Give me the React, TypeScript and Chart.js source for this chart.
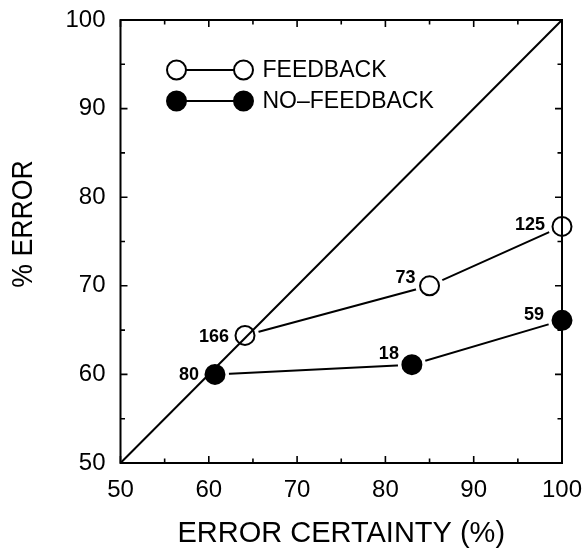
import React, { useEffect, useRef } from "react";
import { Chart, registerables } from "chart.js";

Chart.register(...registerables);

// Error certainty (%) on x, % error on y
const feedbackCertainty = [64.1, 85.0, 100];
const feedbackError = [64.4, 70.0, 76.7];
const feedbackCounts = ["166", "73", "125"];

const noFeedbackCertainty = [60.7, 83.0, 100];
const noFeedbackError = [60.0, 61.1, 66.1];
const noFeedbackCounts = ["80", "18", "59"];

// identity line y = x
const diagonal = [50, 100];

const axisMin = 50;
const axisMax = 100;
const majorStep = 10;
const minorStep = 5;

const seriesNames = ["FEEDBACK", "NO–FEEDBACK"];

// count label offsets from the marker centre (dx to the text's right edge, dy to its middle)
const feedbackLabelOffsets = [
  [-16, 1],
  [-14, -9],
  [-17, -2],
];
const noFeedbackLabelOffsets = [
  [-16, 0],
  [-13, -12],
  [-18, -6],
];

const FONT = "'Liberation Sans', Arial, Helvetica, sans-serif";
const MARKER_R = 9.5;
const MARKER_BW = 2;

const toPoints = (xs: number[], ys: number[]) => xs.map((x, i) => ({ x, y: ys[i] }));

const framePlugin = {
  id: "frameTicks",
  afterDatasetsDraw(chart: any) {
    const { ctx, chartArea: a, scales } = chart;
    const xs = scales.x;
    const ys = scales.y;
    ctx.save();
    ctx.strokeStyle = "#000";
    ctx.lineWidth = 2;
    ctx.strokeRect(a.left, a.top, a.right - a.left, a.bottom - a.top);
    ctx.lineWidth = 1.6;
    for (let v = axisMin; v <= axisMax; v += minorStep) {
      const len = v % majorStep === 0 ? 7 : 4.5;
      const px = xs.getPixelForValue(v);
      const py = ys.getPixelForValue(v);
      ctx.beginPath();
      ctx.moveTo(px, a.bottom);
      ctx.lineTo(px, a.bottom - len);
      ctx.moveTo(px, a.top);
      ctx.lineTo(px, a.top + len);
      ctx.moveTo(a.left, py);
      ctx.lineTo(a.left + len, py);
      ctx.moveTo(a.right, py);
      ctx.lineTo(a.right - len, py);
      ctx.stroke();
    }
    ctx.restore();
  },
};

const countLabelPlugin = {
  id: "countLabels",
  afterDatasetsDraw(chart: any) {
    const { ctx, scales } = chart;
    const groups = [
      { xs: feedbackCertainty, ys: feedbackError, labels: feedbackCounts, off: feedbackLabelOffsets },
      { xs: noFeedbackCertainty, ys: noFeedbackError, labels: noFeedbackCounts, off: noFeedbackLabelOffsets },
    ];
    ctx.save();
    ctx.fillStyle = "#000";
    ctx.font = `bold 18px ${FONT}`;
    ctx.textAlign = "right";
    ctx.textBaseline = "middle";
    groups.forEach((g) => {
      g.labels.forEach((t, i) => {
        const px = scales.x.getPixelForValue(g.xs[i]);
        const py = scales.y.getPixelForValue(g.ys[i]);
        ctx.fillText(t, px + g.off[i][0], py + g.off[i][1] + 1);
      });
    });
    ctx.restore();
  },
};

const legendPlugin = {
  id: "boxLegend",
  afterDraw(chart: any) {
    const { ctx, chartArea: a } = chart;
    const rows = [
      { y: a.top + 50, filled: false, text: seriesNames[0] },
      { y: a.top + 81, filled: true, text: seriesNames[1] },
    ];
    const x1 = a.left + 56;
    const x2 = a.left + 123;
    ctx.save();
    rows.forEach((r) => {
      ctx.strokeStyle = "#000";
      ctx.lineWidth = 2;
      ctx.beginPath();
      ctx.moveTo(x1, r.y);
      ctx.lineTo(x2, r.y);
      ctx.stroke();
      [x1, x2].forEach((cx) => {
        ctx.beginPath();
        ctx.arc(cx, r.y, MARKER_R, 0, Math.PI * 2);
        ctx.fillStyle = r.filled ? "#000" : "#fff";
        ctx.fill();
        ctx.lineWidth = MARKER_BW;
        ctx.stroke();
      });
      ctx.fillStyle = "#000";
      ctx.font = `23px ${FONT}`;
      ctx.textAlign = "left";
      ctx.textBaseline = "middle";
      ctx.fillText(r.text, x2 + 19, r.y + 1);
    });
    ctx.restore();
  },
};

const axisTitlePlugin = {
  id: "axisTitles",
  afterDraw(chart: any) {
    const { ctx, chartArea: a } = chart;
    ctx.save();
    ctx.fillStyle = "#000";
    ctx.font = `29px ${FONT}`;
    ctx.textAlign = "center";
    ctx.textBaseline = "alphabetic";
    ctx.fillText("ERROR CERTAINTY (%)", (a.left + a.right) / 2, 542);
    ctx.translate(32, 224);
    ctx.rotate(-Math.PI / 2);
    ctx.scale(0.92, 1);
    ctx.font = `29px ${FONT}`;
    ctx.fillText("% ERROR", 0, 0);
    ctx.restore();
  },
};

export default function App() {
  const canvasRef = useRef<HTMLCanvasElement | null>(null);

  useEffect(() => {
    if (!canvasRef.current) return;
    const chart = new Chart(canvasRef.current, {
      type: "line",
      data: {
        datasets: [
          // markers (top layer)
          {
            label: seriesNames[0] + " markers",
            data: toPoints(feedbackCertainty, feedbackError),
            showLine: false,
            pointRadius: MARKER_R,
            pointBorderWidth: MARKER_BW,
            pointBorderColor: "#000",
            pointBackgroundColor: "rgba(255,255,255,0)",
            order: 1,
            clip: false,
          },
          {
            label: seriesNames[1] + " markers",
            data: toPoints(noFeedbackCertainty, noFeedbackError),
            showLine: false,
            pointRadius: MARKER_R,
            pointBorderWidth: MARKER_BW,
            pointBorderColor: "#000",
            pointBackgroundColor: "#000",
            order: 1,
            clip: false,
          },
          // identity line
          {
            label: "diagonal",
            data: toPoints(diagonal, diagonal),
            borderColor: "#000",
            borderWidth: 2,
            pointRadius: 0,
            order: 2,
            clip: false,
          },
          // connecting lines with white halos around each point
          {
            label: seriesNames[0],
            data: toPoints(feedbackCertainty, feedbackError),
            borderColor: "#000",
            borderWidth: 2,
            pointRadius: 12,
            pointBorderWidth: 4,
            pointBorderColor: "#fff",
            pointBackgroundColor: "#fff",
            order: 3,
            clip: false,
          },
          {
            label: seriesNames[1],
            data: toPoints(noFeedbackCertainty, noFeedbackError),
            borderColor: "#000",
            borderWidth: 2,
            pointRadius: 12,
            pointBorderWidth: 4,
            pointBorderColor: "#fff",
            pointBackgroundColor: "#fff",
            order: 3,
            clip: false,
          },
        ],
      },
      options: {
        animation: false,
        responsive: true,
        maintainAspectRatio: false,
        layout: { padding: { top: 20, right: 24, left: 0, bottom: 0 } },
        plugins: { legend: { display: false }, tooltip: { enabled: false } },
        scales: {
          x: {
            type: "linear",
            min: axisMin,
            max: axisMax,
            ticks: {
              stepSize: majorStep,
              color: "#000",
              font: { family: FONT, size: 24 },
              padding: 13,
              maxRotation: 0,
            },
            grid: { drawOnChartArea: false, drawTicks: false },
            border: { display: false },
            afterFit: (s: any) => {
              s.height = 90;
              s.paddingLeft = 0;
              s.paddingRight = 0;
            },
          },
          y: {
            type: "linear",
            min: axisMin,
            max: axisMax,
            ticks: {
              stepSize: majorStep,
              color: "#000",
              font: { family: FONT, size: 24 },
              padding: 15,
            },
            grid: { drawOnChartArea: false, drawTicks: false },
            border: { display: false },
            afterFit: (s: any) => {
              s.width = 120.5;
              s.paddingTop = 0;
              s.paddingBottom = 0;
            },
          },
        },
      },
      plugins: [framePlugin, countLabelPlugin, legendPlugin, axisTitlePlugin],
    });
    return () => chart.destroy();
  }, []);

  return (
    <div style={{ position: "fixed", left: 0, top: 0, width: 586, height: 553, background: "#fff" }}>
      <canvas ref={canvasRef} />
    </div>
  );
}
